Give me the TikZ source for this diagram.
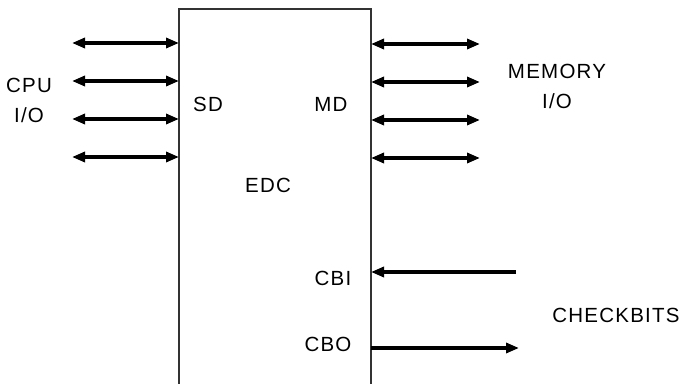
\documentclass[tikz,border=0pt]{standalone}
\usepackage{fontspec}
\setmainfont{Liberation Sans}[LetterSpace=6]
\usetikzlibrary{arrows.meta}
\tikzset{
  lbl/.style={anchor=base, inner sep=0pt, font=\fontsize{20.5}{24}\selectfont},
  bus/.style={line width=3.2pt, {Triangle[length=13pt,width=10pt]}-{Triangle[length=13pt,width=10pt]}},
  sig/.style={line width=3.2pt, -{Triangle[length=13pt,width=10pt]}},
  boxline/.style={line width=1.1pt, draw=black!80},
}
\begin{document}
\begin{tikzpicture}[x=1pt,y=-1pt]
\useasboundingbox (0,0) rectangle (685,383);
% box
\coordinate (bl) at (179,390);
\coordinate (tl) at (179,9);
\coordinate (tr) at (371,9);
\coordinate (br) at (371,390);
\draw[boxline] (bl) -- (tl) -- (tr) -- (br);
% left buses
\foreach \i/\y in {1/43,2/81,3/119,4/157}{
  \coordinate (la\i) at (72,\y);
  \coordinate (lb\i) at (179,\y);
  \draw[bus] (la\i) -- (lb\i);
}
% right buses
\foreach \i/\y in {1/44,2/82,3/120,4/158}{
  \coordinate (ra\i) at (371,\y);
  \coordinate (rb\i) at (480,\y);
  \draw[bus] (ra\i) -- (rb\i);
}
% checkbits
\coordinate (cbiS) at (516,272);
\coordinate (cbiE) at (371,272);
\coordinate (cboS) at (371,348);
\coordinate (cboE) at (519,348);
\draw[sig] (cbiS) -- (cbiE);
\draw[sig] (cboS) -- (cboE);
% labels
\node[lbl] (cpu) at (29,92) {CPU};
\node[lbl] (cpuio) at (29,122) {I/O};
\node[lbl] (sd) at (208,111) {SD};
\node[lbl] (md) at (331,111) {MD};
\node[lbl] (mem) at (557,78) {MEMORY};
\node[lbl] (memio) at (557,108) {I/O};
\node[lbl] (edc) at (268,192) {EDC};
\node[lbl] (cbi) at (333,285) {CBI};
\node[lbl] (cbo) at (328,351) {CBO};
\node[lbl] (chk) at (616,322) {CHECKBITS};
\end{tikzpicture}
\end{document}
